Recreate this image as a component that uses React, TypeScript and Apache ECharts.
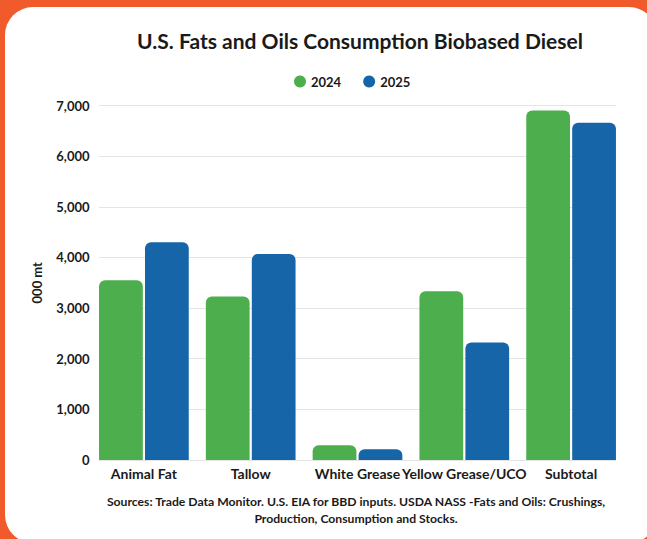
import React, { useEffect, useRef } from "react";
import * as echarts from "echarts";

const categories = ["Animal Fat", "Tallow", "White Grease", "Yellow Grease/UCO", "Subtotal"];
const series2024 = [3550, 3230, 290, 3330, 6900];
const series2025 = [4300, 4070, 210, 2320, 6660];
const yTicks = { min: 0, max: 7000, interval: 1000 };
const titleText = "U.S. Fats and Oils Consumption Biobased Diesel";
const sourceLines = [
  "Sources: Trade Data Monitor. U.S. EIA for BBD inputs. USDA NASS -Fats and Oils: Crushings,",
  "Production, Consumption and Stocks.",
];

const GREEN = "#4CAE4C";
const BLUE = "#1565A8";
const TEXT = "#1a1a1a";
const FONT = "Lato, 'Noto Sans', sans-serif";

export default function App() {
  const ref = useRef<HTMLDivElement>(null);
  useEffect(() => {
    document.body.style.margin = "0";
    if (!ref.current) return;
    const chart = echarts.init(ref.current, null, { renderer: "svg" });
    const top = 105.5;
    const bottom = 79;
    chart.setOption({
      animation: false,
      backgroundColor: "transparent",
      textStyle: { fontFamily: FONT },
      title: {
        text: titleText,
        left: 355,
        textAlign: "center",
        top: 25,
        textStyle: { fontFamily: FONT, fontSize: 21, fontWeight: "bold", color: TEXT },
      },
      legend: {
        data: ["2024", "2025"],
        left: 289,
        top: 70,
        orient: "horizontal",
        icon: "circle",
        itemWidth: 12,
        itemHeight: 12,
        itemGap: 22,
        textStyle: { fontFamily: FONT, fontSize: 13, fontWeight: "bold", color: TEXT },
      },
      graphic: sourceLines.map((t, i) => ({
        type: "text",
        x: 356,
        y: 501 + i * 17.5,
        style: {
          text: t,
          fontFamily: FONT,
          fontSize: 12.2,
          fontWeight: "bold",
          fill: TEXT,
          align: "center",
          verticalAlign: "middle",
        },
      })),
      grid: [
        { left: 90.5, right: 647 - 624.5, top, bottom, containLabel: false },
        { left: 99, right: 647 - 616, top, bottom, containLabel: false },
      ],
      xAxis: [
        {
          type: "category",
          gridIndex: 0,
          data: categories,
          axisLine: { show: false },
          axisTick: { show: false },
          axisLabel: {
            margin: 6,
            fontFamily: FONT,
            fontSize: 14,
            fontWeight: "bold",
            color: TEXT,
            interval: 0,
          },
        },
        {
          type: "value",
          gridIndex: 1,
          min: 0,
          max: 1,
          show: false,
        },
      ],
      yAxis: [
        {
          type: "value",
          gridIndex: 0,
          min: yTicks.min,
          max: yTicks.max,
          interval: yTicks.interval,
          name: "000 mt",
          nameLocation: "middle",
          nameRotate: 90,
          nameGap: 47,
          nameTextStyle: { fontFamily: FONT, fontSize: 13, fontWeight: "bold", color: TEXT },
          splitLine: { show: false },
          axisLine: { show: false },
          axisTick: { show: false },
          axisLabel: {
            margin: 1,
            fontFamily: FONT,
            fontSize: 13,
            fontWeight: "bold",
            color: TEXT,
            formatter: (v: number) => v.toLocaleString("en-US"),
          },
        },
        {
          type: "value",
          gridIndex: 1,
          min: yTicks.min,
          max: yTicks.max,
          interval: yTicks.interval,
          axisLine: { show: false },
          axisTick: { show: false },
          axisLabel: { show: false },
          splitLine: { show: true, lineStyle: { color: "#e4e4e4", width: 1 } },
        },
      ],
      series: [
        {
          name: "2024",
          type: "bar",
          xAxisIndex: 0,
          yAxisIndex: 0,
          data: series2024,
          barCategoryGap: "16%",
          barGap: "5%",
          itemStyle: { color: GREEN, borderRadius: [6, 6, 0, 0] },
        },
        {
          name: "2025",
          type: "bar",
          xAxisIndex: 0,
          yAxisIndex: 0,
          data: series2025,
          barCategoryGap: "16%",
          barGap: "5%",
          itemStyle: { color: BLUE, borderRadius: [6, 6, 0, 0] },
        },
      ],
    });
    return () => chart.dispose();
  }, []);
  return (
    <div
      style={{
        position: "fixed",
        left: 0,
        top: 0,
        width: 647,
        height: 539,
        overflow: "hidden",
        background: "#F15A2B",
      }}
    >
      <div
        style={{
          position: "absolute",
          left: 5,
          top: 7,
          width: 652,
          height: 536,
          borderRadius: 28,
          background: "#ffffff",
        }}
      />
      <div ref={ref} style={{ position: "absolute", left: 0, top: 0, width: 647, height: 539 }} />
    </div>
  );
}
